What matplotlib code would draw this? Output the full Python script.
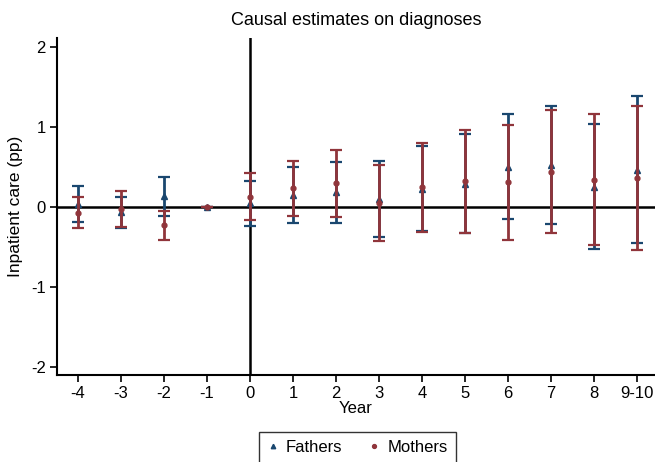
import matplotlib.pyplot as plt

plt.rcParams['font.family'] = ['Liberation Sans', 'DejaVu Sans']
plt.rcParams['axes.unicode_minus'] = False

# Datos
years = [-4, -3, -2, -1, 0, 1, 2, 3, 4, 5, 6, 7, 8, 9]
year_labels = ['-4', '-3', '-2', '-1', '0', '1', '2', '3', '4', '5', '6', '7', '8', '9-10']

fathers = [0.04, -0.06, 0.14, 0.0, 0.05, 0.15, 0.18, 0.095, 0.22, 0.29, 0.50, 0.525, 0.25, 0.46]
fathers_lo = [-0.19, -0.26, -0.11, 0.0, -0.24, -0.20, -0.20, -0.38, -0.30, -0.32, -0.145, -0.21, -0.53, -0.45]
fathers_hi = [0.26, 0.13, 0.375, 0.0, 0.325, 0.50, 0.56, 0.575, 0.755, 0.91, 1.155, 1.255, 1.04, 1.38]

mothers = [-0.07, -0.03, -0.23, 0.0, 0.125, 0.23, 0.30, 0.045, 0.25, 0.32, 0.31, 0.44, 0.33, 0.355]
mothers_lo = [-0.26, -0.25, -0.41, 0.0, -0.16, -0.11, -0.12, -0.42, -0.31, -0.32, -0.41, -0.32, -0.48, -0.54]
mothers_hi = [0.13, 0.20, -0.05, 0.0, 0.42, 0.57, 0.71, 0.52, 0.80, 0.955, 1.025, 1.205, 1.155, 1.255]

navy = '#1a476f'
maroon = '#90353b'

fig = plt.figure(figsize=(6.55, 4.62), dpi=100)
ax = fig.add_axes([0.087, 0.188, 0.913, 0.730])

ax.axhline(0, color='black', lw=1.8, zorder=1)
ax.axvline(0, color='black', lw=1.8, zorder=1)

f_err = [[f - lo for f, lo in zip(fathers, fathers_lo)], [hi - f for f, hi in zip(fathers, fathers_hi)]]
m_err = [[m - lo for m, lo in zip(mothers, mothers_lo)], [hi - m for m, hi in zip(mothers, mothers_hi)]]

ax.errorbar(years, fathers, yerr=f_err, fmt='^', color=navy, ms=4, elinewidth=2,
            capsize=4.5, capthick=1.6, label='Fathers', zorder=2)
ax.errorbar(years, mothers, yerr=m_err, fmt='o', color=maroon, ms=3.5, elinewidth=2,
            capsize=4.5, capthick=1.6, label='Mothers', zorder=3)

ax.set_xlim(-4.49, 9.42)
ax.set_ylim(-2.1, 2.11)
ax.set_xticks(years)
ax.set_xticklabels(year_labels)
ax.set_yticks([-2, -1, 0, 1, 2])
ax.tick_params(labelsize=12, length=5, width=1.2, direction='out', pad=3)

for s in ['top', 'right']:
    ax.spines[s].set_visible(False)
for s in ['left', 'bottom']:
    ax.spines[s].set_linewidth(1.5)

ax.set_xlabel('Year', fontsize=12, labelpad=0)
ax.set_ylabel('Inpatient care (pp)', fontsize=12.5, labelpad=6)
ax.set_title('Causal estimates on diagnoses', fontsize=13, pad=9)

handles, labels = ax.get_legend_handles_labels()
handles = [h[0] for h in handles]
leg = fig.legend(handles, labels, loc='upper center', bbox_to_anchor=(0.546, 0.066), ncol=2,
                 fontsize=12, fancybox=False, edgecolor='black', handlelength=0.6,
                 columnspacing=1.6, markerscale=0.8, borderpad=0.5, handletextpad=0.5,
                 borderaxespad=0)
leg.get_frame().set_linewidth(1.0)

plt.savefig('out.png', dpi=100)
